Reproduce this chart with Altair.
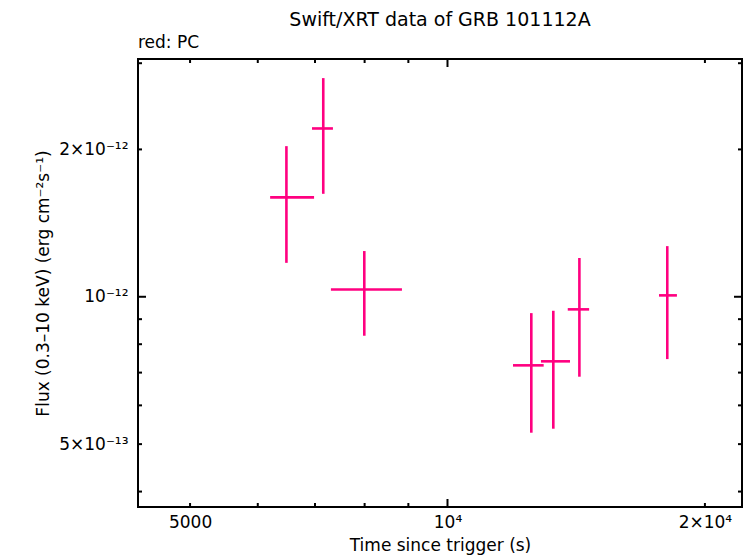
import altair as alt
import pandas as pd

# ---- data ----
t_mid = [6481, 7157, 7993, 12532, 13297, 14264, 18072]
t_lo = [6203, 6943, 7306, 11929, 12862, 13824, 17673]
t_hi = [6982, 7346, 8846, 12956, 13908, 14643, 18548]
flux = [1.596e-12, 2.207e-12, 1.035e-12, 7.243e-13, 7.381e-13, 9.425e-13, 1.0066e-12]
flux_lo = [1.173e-12, 1.623e-12, 8.325e-13, 5.276e-13, 5.376e-13, 6.866e-13, 7.459e-13]
flux_hi = [2.031e-12, 2.797e-12, 1.240e-12, 9.26e-13, 9.363e-13, 1.2e-12, 1.269e-12]

x_label_values = [5000, 10000, 20000]
x_label_texts = ["5000", "10⁴", "2×10⁴"]
y_label_values = [5e-13, 1e-12, 2e-12]
y_label_texts = ["5×10⁻¹³", "10⁻¹²", "2×10⁻¹²"]

x_major_ticks = [10000]
x_minor_ticks = [5000, 6000, 7000, 8000, 9000, 20000]
y_major_ticks = [1e-12]
y_minor_ticks = [4e-13, 5e-13, 6e-13, 7e-13, 8e-13, 9e-13, 2e-12, 3e-12]

x_domain = [4346, 22100]
y_domain = [3.72e-13, 3.06e-12]

title_text = "Swift/XRT data of GRB 101112A"
note_text = "red: PC"

W, H = 604, 448
FONT = "DejaVu Sans"
COLOR = "#ff0080"


def label_expr(values, texts):
    expr = "''"
    for v, t in sorted(zip(values, texts)):
        expr = f"(abs(log(datum.value) - log({v})) < 0.01 ? '{t}' : {expr})"
    return expr


df = pd.DataFrame({"t": t_mid, "tlo": t_lo, "thi": t_hi,
                   "f": flux, "flo": flux_lo, "fhi": flux_hi})

xs = alt.Scale(type="log", domain=x_domain, nice=False)
ys = alt.Scale(type="log", domain=y_domain, nice=False)

x_axis = alt.Axis(values=x_label_values, labelExpr=label_expr(x_label_values, x_label_texts),
                  grid=False, ticks=False, domain=False, labelFont=FONT, labelFontSize=17,
                  labelColor="black", labelPadding=7, labelFlush=False,
                  title="Time since trigger (s)", titleFont=FONT, titleFontSize=17,
                  titleFontWeight="normal", titleColor="black", titlePadding=7)
y_axis = alt.Axis(values=y_label_values, labelExpr=label_expr(y_label_values, y_label_texts),
                  grid=False, ticks=False, domain=False, labelFont=FONT, labelFontSize=17,
                  labelColor="black", labelPadding=10, labelFlush=False,
                  title="Flux (0.3–10 keV) (erg cm⁻²s⁻¹)", titleFont=FONT, titleFontSize=17,
                  titleFontWeight="normal", titleColor="black", titlePadding=6)

base = alt.Chart(df)

vbars = base.mark_rule(color=COLOR, strokeWidth=2.6).encode(
    x=alt.X("t:Q", scale=xs, axis=x_axis),
    y=alt.Y("flo:Q", scale=ys, axis=y_axis),
    y2="fhi:Q",
)
hbars = base.mark_rule(color=COLOR, strokeWidth=2.6).encode(
    x=alt.X("tlo:Q", scale=xs),
    x2="thi:Q",
    y=alt.Y("f:Q", scale=ys),
)


def xticks(vals, length):
    d = pd.DataFrame({"v": vals})
    bottom = alt.Chart(d).mark_rule(color="black", strokeWidth=2).encode(
        x=alt.X("v:Q", scale=xs), y=alt.value(H), y2=alt.value(H - length))
    top = alt.Chart(d).mark_rule(color="black", strokeWidth=2).encode(
        x=alt.X("v:Q", scale=xs), y=alt.value(0), y2=alt.value(length))
    return [bottom, top]


def yticks(vals, length):
    d = pd.DataFrame({"v": vals})
    left = alt.Chart(d).mark_rule(color="black", strokeWidth=2).encode(
        y=alt.Y("v:Q", scale=ys), x=alt.value(0), x2=alt.value(length))
    right = alt.Chart(d).mark_rule(color="black", strokeWidth=2).encode(
        y=alt.Y("v:Q", scale=ys), x=alt.value(W), x2=alt.value(W - length))
    return [left, right]


tick_layers = xticks(x_major_ticks, 8) + xticks(x_minor_ticks, 4) + \
    yticks(y_major_ticks, 8) + yticks(y_minor_ticks, 4)

note = alt.Chart(pd.DataFrame({"s": [note_text]})).mark_text(
    align="left", baseline="alphabetic", font=FONT, fontSize=17, color="black"
).encode(text="s:N", x=alt.value(0), y=alt.value(-11))

title = alt.Chart(pd.DataFrame({"s": [title_text]})).mark_text(
    align="center", baseline="alphabetic", font=FONT, fontSize=19, color="black"
).encode(text="s:N", x=alt.value(W / 2), y=alt.value(-33))

chart = alt.layer(*tick_layers, vbars, hbars, note, title).properties(
    width=W, height=H,
    autosize=alt.AutoSizeParams(type="none"),
    padding={"left": 138, "top": 59, "right": 4, "bottom": 51},
).configure(
    background="white",
    view=alt.ViewConfig(stroke="black", strokeWidth=2),
)

chart.save("out.html", embed_options={"renderer": "svg", "actions": False})
